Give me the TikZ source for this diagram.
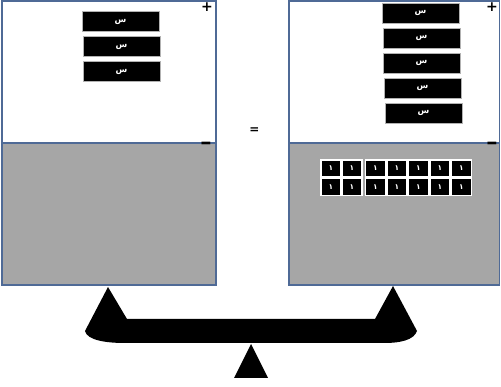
\documentclass[tikz,border=0pt]{standalone}
\usepackage{fontspec}
\TeXXeTstate=1
\newfontfamily\arabicfont[Script=Arabic]{DejaVu Sans}
\newfontfamily\signfont{DejaVu Sans}
\definecolor{frameblue}{RGB}{79,106,150}
\definecolor{pangray}{RGB}{166,166,166}
\newcommand{\unknownx}{\raisebox{-1.5pt}{\beginR س\endR}}
\newcommand{\unitone}{\raisebox{-0.5pt}{\beginR ١\endR}}
\begin{document}
\begin{tikzpicture}[x=1pt,y=-1pt,
  upperpan/.style={draw=frameblue,line width=1.6pt,fill=white},
  lowerpan/.style={draw=frameblue,line width=1.6pt,fill=pangray},
  xbox/.style={fill=black,draw=gray!60,line width=0.6pt,minimum width=77pt,
    minimum height=20pt,inner sep=0pt,text=white,
    font=\arabicfont\bfseries\fontsize{8.5}{8.5}\selectfont},
  unitbox/.style={fill=black,draw=white,line width=1.3pt,minimum width=20pt,
    minimum height=17pt,inner sep=0pt,text=white,
    font=\arabicfont\bfseries\fontsize{7.5}{7.5}\selectfont},
  sign/.style={inner sep=0pt,font=\signfont\bfseries\fontsize{14}{14}\selectfont}
]
\useasboundingbox (0,0) rectangle (501,387);

% left pan
\draw[upperpan] (2,1) rectangle (216,143);
\draw[lowerpan] (2,143) rectangle (216,285);
% right pan
\draw[upperpan] (289,1) rectangle (499.5,143);
\draw[lowerpan] (289,143) rectangle (499.5,285);

% plus / minus markers
\node[sign] (lplus) at (207,7) {+};
\node[sign,yscale=1.6] (lminus) at (206,146.5) {−};
\node[sign] (rplus) at (492,7) {+};
\node[sign,yscale=1.6] (rminus) at (492,146.5) {−};

% equals sign
\node[sign,font=\signfont\bfseries\fontsize{12}{12}\selectfont] (eq) at (254.5,130.5) {=};

% unknowns on the left
\node[xbox] (l1) at (120.5,21.5) {\unknownx};
\node[xbox] (l2) at (121.5,46.5) {\unknownx};
\node[xbox] (l3) at (121.5,71.5) {\unknownx};

% unknowns on the right
\node[xbox] (r1) at (420.5,13) {\unknownx};
\node[xbox] (r2) at (421.5,38) {\unknownx};
\node[xbox] (r3) at (421.5,63) {\unknownx};
\node[xbox] (r4) at (422.5,88) {\unknownx};
\node[xbox] (r5) at (423.5,113) {\unknownx};

% unit tiles on the right
\foreach \i/\x in {1/331,2/352,3/375.5,4/397,5/418.5,6/440,7/461.5}{
  \node[unitbox] (ua\i) at (\x,168.5) {\unitone};
  \node[unitbox] (ub\i) at (\x,187) {\unitone};
}

% balance beam
\fill (85,331) -- (108,287) -- (127,319) -- (375,319) -- (393,286) -- (417,331)
  .. controls (414,340) and (400,343) .. (385,343) -- (125,343)
  .. controls (105,343) and (87,340) .. (85,331) -- cycle;
% fulcrum
\fill (251,344) -- (268,378) -- (234,378) -- cycle;
\end{tikzpicture}
\end{document}
